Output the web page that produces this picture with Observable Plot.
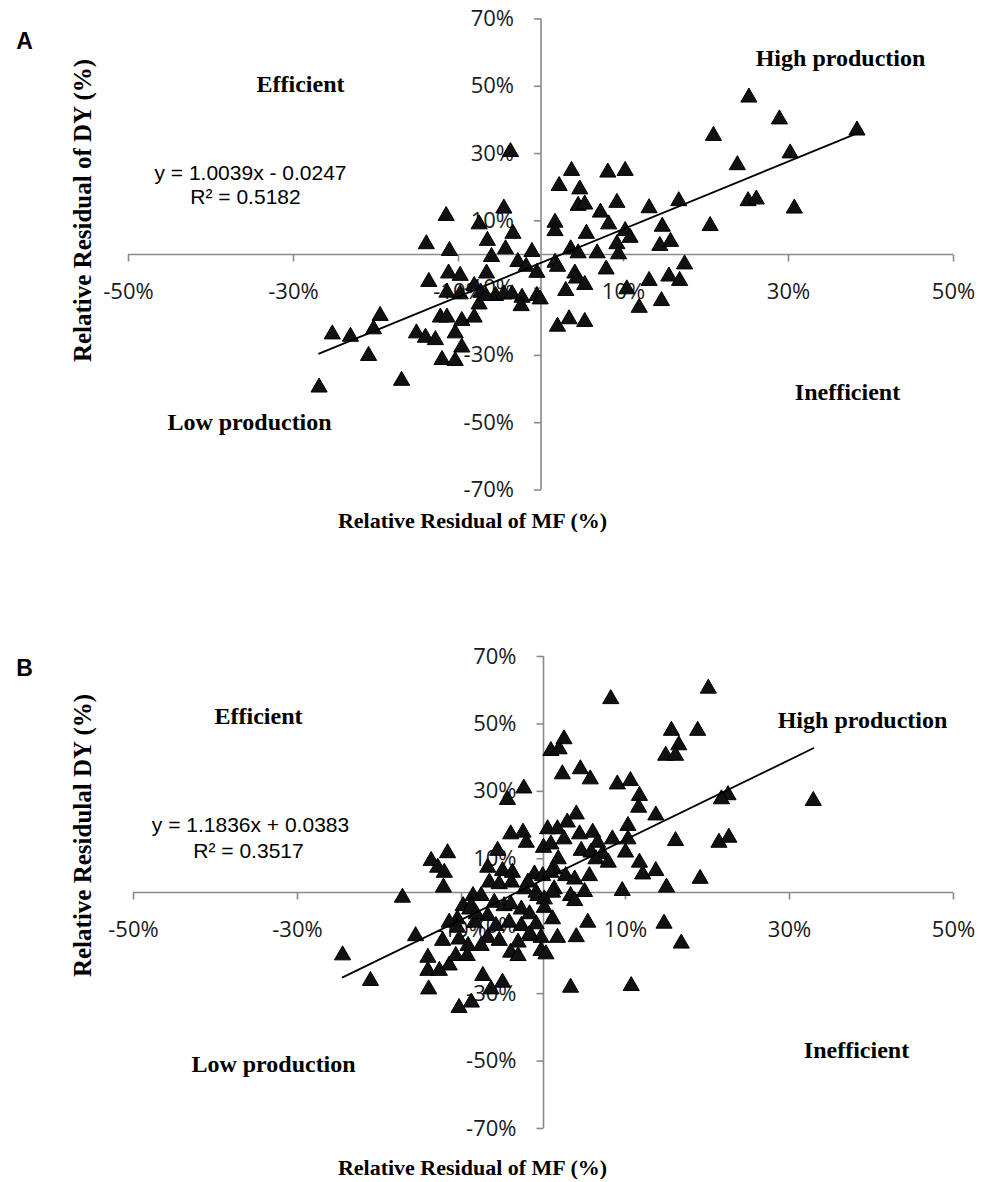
<!DOCTYPE html>
<html><head><meta charset="utf-8">
<script src="https://cdn.jsdelivr.net/npm/d3@7"></script>
<script src="https://cdn.jsdelivr.net/npm/@observablehq/plot@0.6"></script>
<style>
body{margin:0;background:#fff;}
#wrap{position:relative;width:981px;height:1182px;overflow:hidden;}
.panel{position:absolute;left:0;}
</style></head>
<body><div id="wrap"><div id="pa" class="panel" style="top:0px"></div><div id="pb" class="panel" style="top:590px"></div></div>
<script>
// ---- tick values (percent) ----
const xTicks = [-50, -30, -10, 10, 30, 50];
const yTicks = [-70, -50, -30, -10, 10, 30, 50, 70];

// ---- Panel A: relative residual of MF (%) vs relative residual of DY (%) ----
const aMF = [-26.9,-25.3,-23.1,-20.9,-20.3,-19.5,-16.9,-15.1,
  -14.0,-12.8,-10.4,-9.6,-12.0,-10.4,-12.2,-11.4,-9.6,-8.1,-7.5,
  -11.4,-9.8,-8.1,-7.3,-5.5,-4.5,-3.5,-2.3,-0.5,-0.1,-2.4,-6.7,
  -3.7,3.7,8.1,10.2,2.2,4.7,4.5,5.3,9.2,7.2,8.2,-11.5,-4.5,-7.5,-3.4,1.7,1.7,5.5,10.2,10.8,9.2,9.4,
  -13.9,-11.1,-6.5,-6.0,-4.3,-1.1,3.6,4.5,6.8,-2.8,-1.8,-0.5,1.7,2.0,-11.2,-9.8,-6.6,-13.6,4.1,4.3,7.9,5.3,3.0,10.4,11.9,2.0,3.4,5.3,
  25.2,28.9,38.3,20.9,30.2,23.8,13.1,16.7,25.1,26.1,30.7,14.7,20.5,14.4,15.7,17.4,13.1,15.5,16.8,14.6];
const aDY = [-38.9,-23.1,-23.8,-29.5,-21.6,-17.6,-36.9,-22.8,
  -24.1,-24.8,-22.8,-27.0,-30.7,-31.0,-18.1,-18.1,-19.1,-18.1,-14.2,
  -10.7,-11.2,-8.7,-10.7,-11.7,-11.2,-11.2,-12.2,-11.7,-12.7,-14.7,-11.7,
  31.1,25.5,25.0,25.5,21.0,20.0,15.1,15.5,16.0,13.1,9.6,12.1,14.3,9.6,6.8,10.1,7.6,6.8,7.6,5.6,3.7,0.7,
  3.7,1.7,4.7,-0.1,2.2,1.4,2.2,1.0,1.0,-1.6,-3.0,-4.8,-1.8,-3.0,-5.0,-5.7,-5.0,-7.5,-5.0,-6.5,-3.8,-8.4,-10.2,-9.7,-15.2,-20.8,-18.6,-19.4,
  47.3,40.8,37.5,35.9,30.7,27.2,14.4,16.5,16.5,17.0,14.3,8.9,9.1,3.2,4.4,-2.3,-7.2,-5.9,-7.2,-13.2];
const aSlope = 1.0039, aIntercept = -0.0247;

// ---- Panel B ----
const bMF = [20.1,15.6,18.8,16.5,14.9,16.1,10.6,11.7,11.6,13.7,22.5,21.7,32.9,10.3,10.3,10.0,16.1,21.4,22.6,11.7,12.1,13.7,19.1,15.0,9.6,14.7,16.8,
  8.2,0.9,1.9,2.5,2.3,4.5,5.7,9.0,-2.4,-4.4,-4.0,-2.5,-2.1,
  4.0,2.9,0.5,1.7,2.5,4.4,6.0,8.4,0.0,0.9,4.6,6.6,5.8,7.2,6.4,7.9,1.8,1.3,-1.1,2.7,5.6,5.0,1.3,3.3,3.8,-1.9,5.4,4.0,1.1,1.7,-1.5,-0.3,
  -5.6,-6.8,-5.0,-3.8,-6.6,-5.4,-3.9,-0.1,0.9,3.8,1.1,-0.9,-2.3,-8.6,-7.6,-9.8,-8.8,-6.0,-4.8,-4.0,-2.7,-1.7,-0.7,0.1,0.1,-10.5,-8.4,-6.8,-5.8,-4.2,-2.7,-0.9,-0.3,-1.7,-3.1,-6.8,-9.2,-4.0,-3.1,0.3,3.3,10.7,
  -13.7,-11.7,-12.9,-12.1,-12.2,-14.1,-14.1,-12.7,-11.5,-14.0,-10.3,-8.8,-7.4,-5.0,-6.4,-12.3,-10.7,-9.3,-11.5,-10.5,-10.3,-9.0,-8.2,-7.6,-5.4,
  -24.5,-21.1,-17.2,-15.6];
const bDY = [61.1,48.6,48.6,44.3,41.2,41.2,33.7,29.3,25.8,23.5,29.5,28.3,27.8,20.4,16.4,12.5,15.9,15.4,16.9,9.5,6.0,7.0,4.7,2.1,1.1,-8.6,-14.5,
  58.0,42.6,43.1,46.1,35.7,37.2,34.2,32.7,31.5,28.1,17.9,18.4,15.4,
  23.8,21.4,19.4,19.4,16.4,17.9,18.4,16.4,13.9,14.9,13.0,15.4,12.5,12.0,10.5,9.5,10.5,7.5,6.0,5.5,5.5,0.8,1.6,-0.4,-1.9,3.6,-8.3,-12.6,-7.3,-12.8,-12.3,-16.7,
  13.0,8.0,7.0,6.5,3.6,3.1,3.6,5.5,6.5,4.5,0.6,0.6,1.6,-0.4,-0.4,-3.4,-3.4,-2.4,-3.4,-2.9,-4.4,-5.8,-0.4,-1.4,-3.9,-7.3,-8.3,-6.3,-9.3,-8.3,-9.3,-8.8,-12.8,-11.8,-14.2,-12.8,-15.2,-17.2,-18.2,-17.7,-27.6,-27.1,
  10.0,12.3,8.0,6.5,2.1,-18.7,-22.6,-22.6,-21.0,-28.1,-33.6,-32.0,-24.1,-26.1,-28.1,-13.7,-18.2,-18.2,-8.3,-9.8,-13.3,-4.4,-5.8,-15.2,-13.7,
  -18.0,-25.6,-0.9,-12.3];
const bSlope = 1.1836, bIntercept = 0.0383;

// ---- styling ----
const AXIS = "#8a8a8a";
const SERIF = "'Liberation Serif', 'Times New Roman', serif";
const SANS = "'Liberation Sans', Arial, sans-serif";
const TICKFONT = "'Open Sans', 'Liberation Sans', sans-serif";
const tickDown = {draw(ctx){ ctx.moveTo(0, 0); ctx.lineTo(0, 7); }};
const tickLeft = {draw(ctx){ ctx.moveTo(0, 0); ctx.lineTo(-7, 0); }};

function panel(cfg) {
  const {mf, dy, slope, intercept, top, ml, mr, mt, mb, height, texts} = cfg;
  const pts = mf.map((x, i) => ({x, y: dy[i]}));
  const ext = d3.extent(mf);
  const trend = ext.map(x => ({x, y: (slope * x / 100 + intercept) * 100}));
  // helper: place a text at page coordinates
  const lab = (t, px, py, o = {}) => Plot.text([t], {
    frameAnchor: "top-left", dx: px - ml, dy: (py - top) - mt,
    textAnchor: "middle", lineAnchor: "middle", fill: "#000", ...o
  });
  return Plot.plot({
    width: 981, height, marginLeft: ml, marginRight: mr, marginTop: mt, marginBottom: mb,
    x: {domain: [-50, 50], axis: null},
    y: {domain: [-70, 70], axis: null},
    style: {background: "transparent", overflow: "visible"},
    marks: [
      Plot.ruleY([0], {x1: -50, x2: 50, stroke: AXIS, strokeWidth: 1.6}),
      Plot.ruleX([0], {y1: -70, y2: 70, stroke: AXIS, strokeWidth: 1.6}),
      Plot.dot(xTicks, {x: d => d, y: 0, symbol: tickDown, r: 3, fill: "none", stroke: AXIS, strokeWidth: 1.6}),
      Plot.dot(yTicks, {x: 0, y: d => d, symbol: tickLeft, r: 3, fill: "none", stroke: AXIS, strokeWidth: 1.6}),
      Plot.text(xTicks, {x: d => d, y: 0, text: d => d + "%", dy: 37, fontSize: 22, fontFamily: TICKFONT, fill: "#1a1a1a"}),
      Plot.text(yTicks, {x: 0, y: d => d, text: d => d + "%", dx: -27, textAnchor: "end", fontSize: 22, fontFamily: TICKFONT, fill: "#1a1a1a"}),
      ...texts.map(t => lab(t.text, t.x, t.y, t.o)),
      Plot.dot(pts, {x: "x", y: "y", symbol: "triangle", r: 6, dy: 2, fill: "#111", stroke: "#000", strokeWidth: 1}),
      Plot.line(trend, {x: "x", y: "y", stroke: "#000", strokeWidth: 1.8})
    ]
  });
}

const Q = {fontFamily: SERIF, fontWeight: "bold", fontSize: 24};
const T = {fontFamily: SERIF, fontWeight: "bold", fontSize: 22};
const YT = {fontFamily: SERIF, fontWeight: "bold", fontSize: 25, rotate: -90};
const E = {fontFamily: SANS, fontSize: 21};
const L = {fontFamily: SANS, fontWeight: "bold", fontSize: 23};

document.getElementById("pa").append(panel({
  mf: aMF, dy: aDY, slope: aSlope, intercept: aIntercept,
  top: 0, ml: 128, mr: 28, mt: 18.5, mb: 50.5, height: 540,
  texts: [
    {text: "A", x: 24, y: 41, o: L},
    {text: "Efficient", x: 300, y: 84, o: Q},
    {text: "High production", x: 840, y: 58, o: Q},
    {text: "Low production", x: 249, y: 422, o: Q},
    {text: "Inefficient", x: 847, y: 392, o: Q},
    {text: "y = 1.0039x - 0.0247", x: 250, y: 173, o: E},
    {text: "R² = 0.5182", x: 245, y: 197, o: E},
    {text: "Relative Residual of DY (%)", x: 82, y: 210, o: YT},
    {text: "Relative Residual of MF (%)", x: 472, y: 520, o: T}
  ]
}));

document.getElementById("pb").append(panel({
  mf: bMF, dy: bDY, slope: bSlope, intercept: bIntercept,
  top: 590, ml: 133, mr: 28, mt: 66, mb: 54, height: 592,
  texts: [
    {text: "B", x: 24, y: 668, o: L},
    {text: "Efficient", x: 258, y: 716, o: Q},
    {text: "High production", x: 862, y: 720, o: Q},
    {text: "Low production", x: 273, y: 1064, o: Q},
    {text: "Inefficient", x: 856, y: 1050, o: Q},
    {text: "y = 1.1836x + 0.0383", x: 250, y: 825, o: E},
    {text: "R² = 0.3517", x: 248, y: 851, o: E},
    {text: "Relative Residulal DY (%)", x: 82, y: 835, o: YT},
    {text: "Relative Residual of MF (%)", x: 472, y: 1167, o: T}
  ]
}));
</script>
</body></html>
